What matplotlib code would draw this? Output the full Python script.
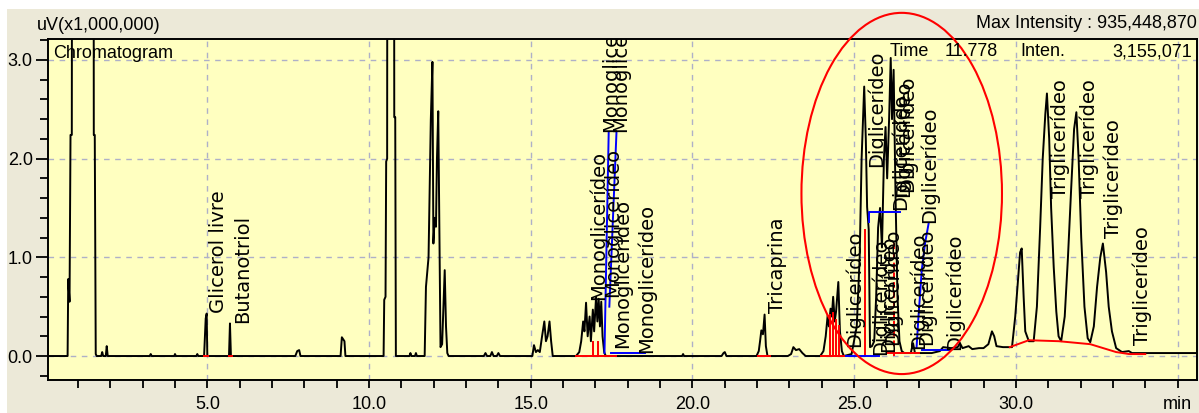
import matplotlib
matplotlib.use('Agg')
import matplotlib.pyplot as plt
from matplotlib import font_manager
from matplotlib.patches import Ellipse, Rectangle
from matplotlib.ticker import MultipleLocator

W, H = 1199, 413
OFF = 12.0  # off-scale solvent peaks, clipped by the axes

# chromatogram trace, time (min) and signal (uV x 1,000,000)
trace_t = [0.07, 0.68, 0.70, 0.74, 0.77, 0.81, 0.84, 1.47, 1.49, 1.52, 1.55, 1.58,
           1.72, 1.75, 1.78, 1.86, 1.89, 1.92, 3.22, 3.25, 3.28, 3.98, 4.00, 4.03,
           4.66, 4.69, 4.72, 4.90, 4.95, 4.98, 5.00, 5.67, 5.70, 5.73,
           7.72, 7.78, 7.84, 7.88, 9.12, 9.16, 9.20, 9.24, 9.27,
           10.45, 10.47, 10.51, 10.53, 10.56, 10.58, 10.76, 10.78, 10.81, 10.83,
           11.25, 11.28, 11.31, 11.42, 11.45, 11.48,
           11.72, 11.76, 11.84, 11.87, 11.91, 11.96, 11.99, 12.03, 12.07, 12.10, 12.14,
           12.18, 12.21, 12.26, 12.30, 12.34, 12.38, 12.42, 12.46,
           13.55, 13.60, 13.65, 13.75, 13.80, 13.85, 13.95, 14.00, 14.05,
           15.05, 15.10, 15.16, 15.22, 15.28, 15.35, 15.42, 15.47, 15.52, 15.58, 15.63, 15.68,
           16.40, 16.50, 16.56, 16.62, 16.66, 16.71, 16.76, 16.82, 16.86, 16.92, 16.96,
           17.02, 17.06, 17.10, 17.14, 17.18, 17.22, 17.27, 17.32,
           19.68, 19.71, 19.74, 20.90, 20.96, 21.00, 21.05,
           21.98, 22.05, 22.09, 22.13, 22.18, 22.23, 22.27, 22.32,
           22.95, 23.05, 23.12, 23.20, 23.30, 23.40, 23.50,
           23.95, 24.05, 24.12, 24.18, 24.22, 24.27, 24.31, 24.35, 24.40, 24.44, 24.51,
           24.56, 24.62, 24.68,
           24.92, 25.08, 25.17, 25.23, 25.31, 25.36, 25.40, 25.45, 25.49, 25.55, 25.62,
           25.68, 25.74, 25.80, 25.86, 25.92, 25.97, 26.02, 26.08, 26.13, 26.17, 26.22,
           26.28, 26.34, 26.40, 26.47,
           26.55, 26.75, 26.82, 26.88, 27.10, 27.40, 27.65, 27.75, 28.00, 28.20, 28.27,
           28.35, 28.54, 28.65, 28.86, 29.00, 29.15, 29.26, 29.33, 29.40, 29.60, 29.88,
           29.98, 30.06, 30.13, 30.18, 30.24, 30.29, 30.40, 30.55, 30.65, 30.75, 30.83,
           30.91, 30.96, 31.03, 31.09, 31.17, 31.25, 31.32, 31.40, 31.51, 31.61, 31.71,
           31.80, 31.87, 31.94, 32.02, 32.12, 32.22, 32.30, 32.41, 32.51, 32.61, 32.69,
           32.79, 32.87, 32.97, 33.10, 33.28, 33.49, 33.59, 34.00, 35.63]
trace_v = [0.0, 0.0, 0.78, 0.55, 2.24, 2.24, OFF, OFF, 2.24, 2.24, 0.02, 0.0,
           0.0, 0.04, 0.0, 0.0, 0.10, 0.0, 0.0, 0.02, 0.0, 0.0, 0.02, 0.0,
           0.0, 0.02, 0.0, 0.0, 0.38, 0.43, 0.0, 0.0, 0.33, 0.0,
           0.0, 0.05, 0.06, 0.0, 0.0, 0.19, 0.17, 0.15, 0.0,
           0.0, 0.57, 0.60, 1.97, 2.00, OFF, OFF, 2.42, 2.42, 0.0,
           0.0, 0.03, 0.0, 0.0, 0.03, 0.0,
           0.0, 0.70, 1.00, 1.58, 2.39, 2.98, 1.14, 1.40, 1.31, 2.00, 2.48,
           1.10, 0.09, 0.12, 0.50, 0.87, 0.30, 0.03, 0.0,
           0.0, 0.03, 0.0, 0.0, 0.04, 0.0, 0.0, 0.03, 0.0,
           0.0, 0.11, 0.04, 0.06, 0.04, 0.20, 0.35, 0.15, 0.20, 0.35, 0.15, 0.0,
           0.0, 0.04, 0.15, 0.35, 0.25, 0.54, 0.20, 0.40, 0.15, 0.47, 0.25,
           0.60, 0.35, 0.58, 0.30, 0.55, 0.20, 0.04, 0.0,
           0.0, 0.02, 0.0, 0.0, 0.03, 0.04, 0.0,
           0.0, 0.05, 0.15, 0.26, 0.22, 0.42, 0.10, 0.0,
           0.0, 0.02, 0.09, 0.06, 0.07, 0.03, 0.0,
           0.0, 0.05, 0.20, 0.41, 0.30, 0.48, 0.40, 0.60, 0.35, 0.45, 0.75,
           0.25, 0.05, 0.0,
           0.02, 0.30, 1.00, 2.00, 2.73, 2.20, 1.51, 1.28, 0.09, 0.10, 0.15,
           0.60, 1.30, 1.50, 1.10, 2.00, 2.32, 1.80, 2.40, 3.02, 2.40, 2.90,
           1.60, 0.60, 0.15, 0.05,
           0.03, 0.03, 0.13, 0.03, 0.03, 0.03, 0.05, 0.09, 0.08, 0.09, 0.13,
           0.08, 0.10, 0.07, 0.08, 0.08, 0.12, 0.25, 0.20, 0.10, 0.09, 0.09,
           0.40, 0.75, 1.05, 1.09, 0.60, 0.25, 0.15, 0.15, 0.50, 1.30, 2.00,
           2.45, 2.66, 2.20, 1.50, 0.90, 0.45, 0.20, 0.15, 0.40, 1.00, 1.70,
           2.30, 2.47, 2.00, 1.20, 0.50, 0.18, 0.14, 0.30, 0.70, 1.00, 1.14,
           0.85, 0.50, 0.25, 0.08, 0.04, 0.05, 0.03, 0.03, 0.03]

# integration marks
red_t = [[4.90, 5.03], [5.66, 5.77], [16.40, 17.65], [16.94, 16.94], [17.09, 17.09],
         [22.03, 22.39], [23.98, 24.68], [24.26, 24.26], [24.35, 24.35], [24.43, 24.43],
         [24.52, 24.52], [25.35, 25.35], [26.00, 27.00],
         [29.81, 30.40, 31.33, 32.30, 33.10, 33.50, 34.00]]
red_v = [[0.0, 0.0], [0.0, 0.0], [0.0, 0.0], [0.0, 0.14], [0.0, 0.14],
         [0.0, 0.0], [0.0, 0.0], [0.0, 0.42], [0.0, 0.44], [0.0, 0.36],
         [0.0, 0.30], [0.0, 1.28], [0.03, 0.03],
         [0.09, 0.16, 0.15, 0.12, 0.04, 0.02, 0.02]]
red_dash_t = [26.22, 26.22]
red_dash_v = [0.0, 1.18]
blue_t = [[17.28, 17.41], [17.43, 17.65], [17.48, 18.52], [24.76, 25.76],
          [25.45, 25.45, 26.41], [26.93, 26.98, 27.09, 27.19, 27.30], [27.09, 27.92]]
blue_v = [[0.03, 2.26], [0.50, 2.26], [0.03, 0.03], [0.0, 0.0],
          [1.36, 1.46, 1.46], [0.09, 0.36, 0.87, 1.14, 1.34], [0.06, 0.06]]

# peak labels: name, time, height of the label's lower end
label_names = ['Glicerol livre', 'Butanotriol'] + ['Monoglicerídeo'] * 6 + ['Tricaprina'] \
    + ['Diglicerídeo'] * 12 + ['Triglicerídeo'] * 4
label_t = [5.34, 6.08, 17.08, 17.51, 17.82, 17.45, 17.76, 18.57, 22.63,
           25.01, 25.69, 25.82, 26.06, 26.19, 26.44, 26.53, 26.65, 26.99, 27.24, 27.33, 28.11,
           31.36, 32.26, 33.00, 33.90]
label_v = [0.44, 0.33, 0.57, 0.60, 0.08, 2.27, 2.27, 0.03, 0.44,
           0.09, 1.92, 0.01, 0.04, 0.11, 1.48, 1.61, 1.66, 0.07, 0.11, 1.35, 0.06,
           1.60, 1.60, 1.20, 0.11]

x_ticks = [5, 10, 15, 20, 25, 30, 35]
x_tick_labels = ['5.0', '10.0', '15.0', '20.0', '25.0', '30.0', 'min']
y_ticks = [0, 1, 2, 3]
y_tick_labels = ['0.0', '1.0', '2.0', '3.0']

# fonts: the screenshot text is tall and narrow
try:
    font_manager.findfont('Liberation Sans Narrow', fallback_to_default=False)
    hfont, hsize = 'Liberation Sans Narrow', 15.5
except Exception:
    hfont, hsize = 'Liberation Sans', 13.0
vfont, vsize = 'DejaVu Sans', 14

def fx(x):
    return x / W

def fy(y):
    return 1 - y / H

fig = plt.figure(figsize=(W / 100, H / 100), dpi=100, facecolor='white')
fig.patches.append(Rectangle((fx(7), 0), 1, fy(9), transform=fig.transFigure,
                             facecolor='#ECE9D8', edgecolor='none', zorder=-10))

ax = fig.add_axes([fx(48), fy(380), fx(1197 - 48), (380 - 39) / H])
ax.set_facecolor('#FFFFC0')
ax.set_xlim(0.074, 35.6)
ax.set_ylim(-0.243, 3.212)

ax.plot(trace_t, trace_v, color='black', lw=1.4, zorder=3)
for tt, vv in zip(red_t, red_v):
    ax.plot(tt, vv, color='#FF0000', lw=1.4, zorder=4)
ax.plot(red_dash_t, red_dash_v, color='#FF0000', lw=1.4, ls=(0, (3, 2)), zorder=4)
for tt, vv in zip(blue_t, blue_v):
    ax.plot(tt, vv, color='#0000FF', lw=1.4, zorder=4)

for name, tt, vv in zip(label_names, label_t, label_v):
    ax.text(tt, vv, name, rotation=90, ha='center', va='bottom', fontsize=vsize,
            family=vfont, color='black', clip_on=True, zorder=5)

ax.set_xticks(x_ticks)
ax.set_xticklabels(x_tick_labels)
ax.set_yticks(y_ticks)
ax.set_yticklabels(y_tick_labels)
ax.xaxis.set_minor_locator(MultipleLocator(1.0))
ax.yaxis.set_minor_locator(MultipleLocator(0.2))
ax.tick_params(axis='y', which='major', length=9, width=1.3, pad=2)
ax.tick_params(axis='y', which='minor', length=6, width=1.3)
ax.tick_params(axis='x', which='both', length=5.5, width=1.3, pad=6)
for lab in ax.get_xticklabels() + ax.get_yticklabels():
    lab.set_family(hfont)
    lab.set_fontsize(hsize)
ax.grid(True, which='major', color='#AEB0C8', ls=(0, (4, 4)), lw=1.0)
ax.set_axisbelow(True)
for s in ax.spines.values():
    s.set_linewidth(1.4)

# red ellipse drawn over the diglyceride region
ax.add_patch(Ellipse((26.47, 1.647), 6.2, 3.66, fill=False, edgecolor='#FF0000',
                     lw=1.5, clip_on=False, zorder=6))

fig.text(fx(37), fy(26), 'uV(x1,000,000)', ha='left', va='center', family=hfont, fontsize=hsize)
fig.text(fx(1197), fy(24), 'Max Intensity : 935,448,870', ha='right', va='center',
         family=hfont, fontsize=hsize)
fig.text(fx(53), fy(53), 'Chromatogram', ha='left', va='center', family=hfont, fontsize=hsize)
fig.text(fx(890), fy(52), 'Time', ha='left', va='center', family=hfont, fontsize=hsize)
fig.text(fx(998), fy(52), '11.778', ha='right', va='center', family=hfont, fontsize=hsize)
fig.text(fx(1020), fy(52), 'Inten.', ha='left', va='center', family=hfont, fontsize=hsize)
fig.text(fx(1192), fy(52), '3,155,071', ha='right', va='center', family=hfont, fontsize=hsize)

fig.savefig('out.png', dpi=100, facecolor=fig.get_facecolor())
